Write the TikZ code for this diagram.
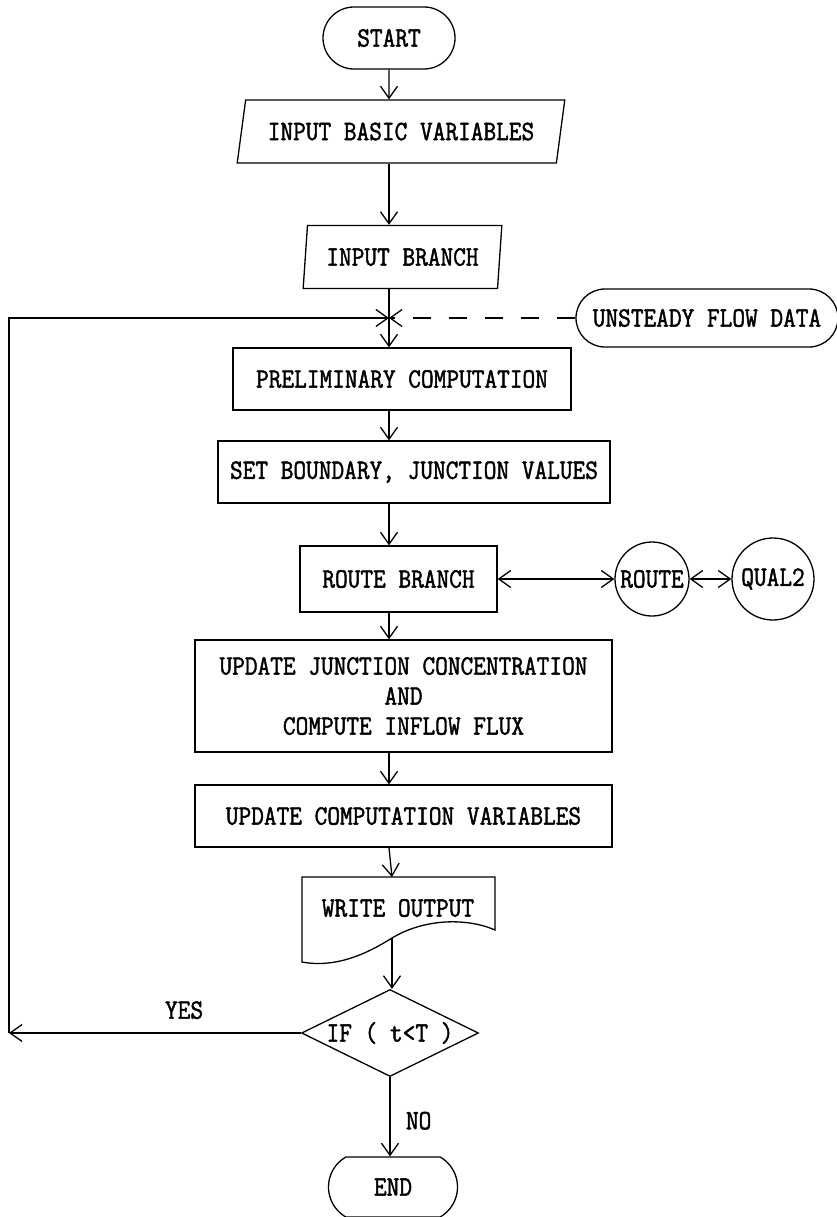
\documentclass[tikz,border=0pt]{standalone}
\usepackage{fontspec}
\newfontfamily\chartfont[FakeStretch=0.88,FakeBold=1.6]{Latin Modern Mono}
\usetikzlibrary{arrows.meta,shapes.geometric,shapes.misc}

\begin{document}
\begin{tikzpicture}[
    x=1pt,y=-1pt,
    >={Straight Barb[length=12pt,width=17pt]},
    line width=1.3pt,
    font=\chartfont\fontsize{28}{30}\selectfont,
    flow/.style={->},
    terminal/.style={rounded rectangle,draw,inner sep=0pt},
    inout/.style={trapezium,draw,trapezium stretches=true,inner sep=0pt,minimum height=63pt},
    process/.style={rectangle,draw,inner sep=0pt,align=center},
    subprog/.style={circle,draw,inner sep=0pt},
    decision/.style={diamond,draw,inner sep=0pt,aspect=2.03}
  ]
    \useasboundingbox (0,0) rectangle (836,1217);

    \node[terminal,minimum width=132pt,minimum height=62pt] (start) at (389,38) {START};
    \node[inout,trapezium left angle=68,trapezium right angle=112,minimum width=328pt]
      (basic) at (401,131.5) {INPUT BASIC VARIABLES};
    \node[inout,trapezium left angle=79,trapezium right angle=101,minimum width=199pt]
      (branch) at (402.5,257) {INPUT BRANCH};
    \coordinate (merge) at (389,318);
    \node[terminal,minimum width=262pt,minimum height=58pt] (flowdata) at (707,318) {UNSTEADY FLOW DATA};

    \node[process,minimum width=338pt,minimum height=62pt] (prelim) at (402,379) {PRELIMINARY COMPUTATION};
    \node[process,minimum width=392pt,minimum height=62pt] (setbc) at (414,472) {SET BOUNDARY, JUNCTION VALUES};
    \node[process,minimum width=197pt,minimum height=66pt] (routebr) at (398.5,579) {ROUTE BRANCH};
    \node[subprog,minimum size=74pt] (route) at (652,579) {ROUTE};
    \node[subprog,minimum size=82pt] (qual) at (773,579) {QUAL2};
    \node[process,minimum width=417pt,minimum height=112pt] (junction) at (403.5,696)
      {UPDATE JUNCTION CONCENTRATION\\AND\\COMPUTE INFLOW FLUX};
    \node[process,minimum width=417pt,minimum height=62pt] (update) at (403.5,816) {UPDATE COMPUTATION VARIABLES};

    \node (output) at (398,908) {WRITE OUTPUT};
    \coordinate (outtop) at (392,877);
    \coordinate (wave) at (392,938);
    \draw (302,877) -- (495,877) -- (495,930)
      .. controls (468,918) and (425,918) .. (wave)
      .. controls (365,955) and (335,968) .. (302,962) -- cycle;

    \node[decision,minimum width=177pt,minimum height=87pt] (test) at (390,1033) {IF ( t<T )};
    \coordinate (loop) at (9,1033);
    \node[terminal,rounded rectangle arc length=120,minimum width=129pt,minimum height=60pt] (stop) at (393,1187) {END};

    \draw[flow] (start) -- (start |- basic.north);
    \draw[flow] (start |- basic.south) -- (start |- branch.north);
    \draw (start |- branch.south) -- (merge);
    \draw[flow,dash pattern=on 18pt off 18pt] (flowdata) -- (merge);
    \draw[flow] (merge) -- (merge |- prelim.north);
    \draw[flow] (merge |- prelim.south) -- (merge |- setbc.north);
    \draw[flow] (merge |- setbc.south) -- (merge |- routebr.north);
    \draw[<->] (routebr) -- (route);
    \draw[<->] (route) -- (qual);
    \draw[flow] (merge |- routebr.south) -- (merge |- junction.north);
    \draw[flow] (merge |- junction.south) -- (merge |- update.north);
    \draw[flow] (merge |- update.south) -- (outtop);
    \draw[flow] (wave) -- (wave |- test.north);
    \draw[flow] (test) -- node[above=10pt,pos=0.4] {YES} (loop);
    \draw[flow] (loop) |- (merge);
    \draw[flow] (test) -- node[right=12pt,pos=0.55] {NO} (test |- stop.north);
\end{tikzpicture}
\end{document}
